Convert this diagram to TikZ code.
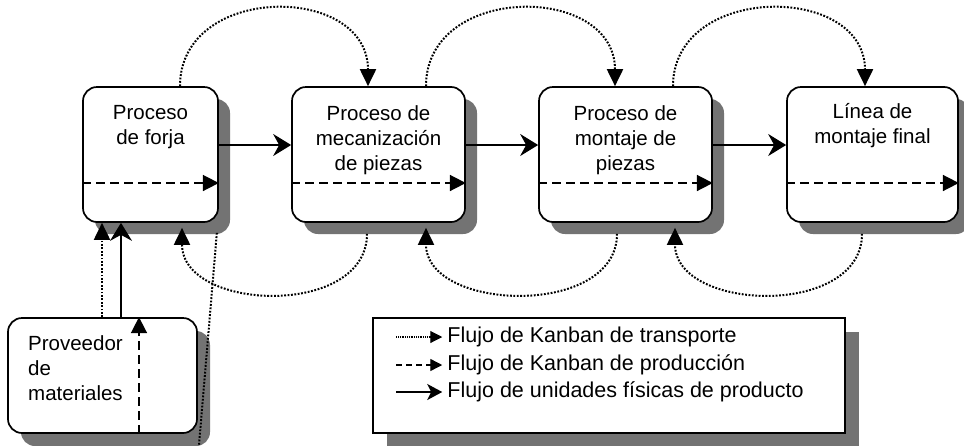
\documentclass[tikz,border=0pt]{standalone}
\usepackage{fontspec}
\setmainfont{Liberation Sans}
\usetikzlibrary{arrows.meta,shadows,calc}
\begin{document}
\begin{tikzpicture}[x=1pt,y=-1pt,
  shad/.style={drop shadow={shadow xshift=#1, shadow yshift=-#1, fill=black!55, opacity=1}},
  proc/.style={draw=black, line width=1.7pt, rounded corners=14pt, fill=white,
     minimum height=135pt, inner sep=0pt, shad=12pt},
  boxtext/.style={anchor=north, inner sep=0pt, align=center, font=\fontsize{20.5}{25}\selectfont},
  transport/.style={line width=2pt, dash pattern=on 1.8pt off 1.6pt,
     -{Triangle[length=17pt,width=16pt]}},
  transportline/.style={line width=2pt, dash pattern=on 1.8pt off 1.6pt},
  production/.style={line width=1.7pt, dash pattern=on 9pt off 5pt,
     -{Triangle[length=16pt,width=16pt]}},
  flow/.style={line width=1.7pt, -{Stealth[length=18pt,width=22pt,inset=6pt]}},
  legtext/.style={anchor=west, inner sep=0pt, font=\fontsize{21.5}{25}\selectfont},
  legT/.style={line width=1.1pt, dash pattern=on 1pt off 0.8pt, -{Triangle[length=12pt,width=12pt]}},
  legP/.style={line width=1.4pt, dash pattern=on 6pt off 4pt, -{Triangle[length=12pt,width=12pt]}},
  legF/.style={line width=1.5pt, -{Stealth[length=15pt,width=16pt,inset=4pt]}},
]
\useasboundingbox (0,0) rectangle (964,445);

% process boxes
\node[proc, minimum width=135pt] (b1) at (150.5,154.5) {};
\node[proc, minimum width=173pt] (b2) at (378.5,154.5) {};
\node[proc, minimum width=173pt] (b3) at (625.5,154.5) {};
\node[proc, minimum width=171pt] (b4) at (872.5,154.5) {};

\node[boxtext] (t1) at (150.5,105) {Proceso\\de forja};
\node[boxtext] (t2) at (378.5,105) {Proceso de\\mecanización\\de piezas};
\node[boxtext] (t3) at (625.5,105) {Proceso de\\montaje de\\piezas};
\node[boxtext] (t4) at (872.5,103) {Línea de\\montaje final};

% supplier
\node[draw=black, line width=1.7pt, rounded corners=14pt, fill=white,
      minimum width=189pt, minimum height=115pt, inner sep=0pt, shad=13pt] (sup) at (102.5,375.5) {};
\node[anchor=north west, inner sep=0pt, align=left, font=\fontsize{20.5}{25}\selectfont]
      (st) at (28,335) {Proveedor\\de\\materiales};

% legend box
\node[draw=black, line width=1.5pt, fill=white, minimum width=472pt, minimum height=115pt,
      inner sep=0pt, shad=14pt] (L) at (609,375.5) {};

% physical flow
\draw[flow] ($(b1.east)+(0,-9.5)$) -- ($(b2.west)+(0,-9.5)$);
\draw[flow] ($(b2.east)+(0,-9.5)$) -- ($(b3.west)+(0,-9.5)$);
\draw[flow] ($(b3.east)+(0,-9.5)$) -- ($(b4.west)+(0,-9.5)$);

% production kanban inside boxes
\draw[production] ($(b1.west)+(0,28.5)$) -- ($(b1.east)+(0,28.5)$);
\draw[production] ($(b2.west)+(0,28.5)$) -- ($(b2.east)+(0,28.5)$);
\draw[production] ($(b3.west)+(0,28.5)$) -- ($(b3.east)+(0,28.5)$);
\draw[production] ($(b4.west)+(0,28.5)$) -- ($(b4.east)+(0,28.5)$);

% transport kanban, upper arcs
\draw[transport] ($(b1.north)+(29.5,0)$) .. controls +(0,-103) and +(0,-103) .. ($(b2.north)+(-10.5,0)$);
\draw[transport] ($(b2.north)+(47.5,0)$) .. controls +(0,-103) and +(0,-103) .. ($(b3.north)+(-10.5,0)$);
\draw[transport] ($(b3.north)+(47.5,0)$) .. controls +(0,-103) and +(0,-103) .. ($(b4.north)+(-7.5,0)$);

% transport kanban, lower arcs
\draw[transport] ($(b2.south)+(-11.5,11)$) .. controls +(0,84) and +(0,84) .. ($(b1.south)+(31.5,5)$);
\draw[transport] ($(b3.south)+(-8.5,11)$) .. controls +(0,84) and +(0,84) .. ($(b2.south)+(47.5,5)$);
\draw[transport] ($(b4.south)+(-10.5,11)$) .. controls +(0,84) and +(0,84) .. ($(b3.south)+(49.5,5)$);

% supplier connections
\draw[transport] ($(sup.north)+(-0.5,0)$) -- ($(b1.south)+(-48.5,0)$);
\draw[flow] ($(sup.north)+(18.5,0)$) -- ($(b1.south)+(-29.5,0)$);
\draw[production] ($(sup.south)+(36.5,0)$) -- ($(sup.north)+(36.5,0)$);
\coordinate (off) at (199,445);
\draw[transportline] ($(b1.south east)+(-2,10)$) -- (off);

% legend entries
\node[legtext] (l1) at ($(L.west)+(75,-38.5)$) {Flujo de Kanban de transporte};
\node[legtext] (l2) at ($(L.west)+(75,-10.5)$) {Flujo de Kanban de producción};
\node[legtext] (l3) at ($(L.west)+(75,16.5)$) {Flujo de unidades físicas de producto};
\draw[legT] ($(L.west)+(24,-38.5)$) -- ([xshift=-5pt]l1.west);
\draw[legP] ($(L.west)+(24,-10.5)$) -- ([xshift=-5pt]l2.west);
\draw[legF] ($(L.west)+(24,16.5)$) -- ([xshift=-5pt]l3.west);
\end{tikzpicture}
\end{document}
